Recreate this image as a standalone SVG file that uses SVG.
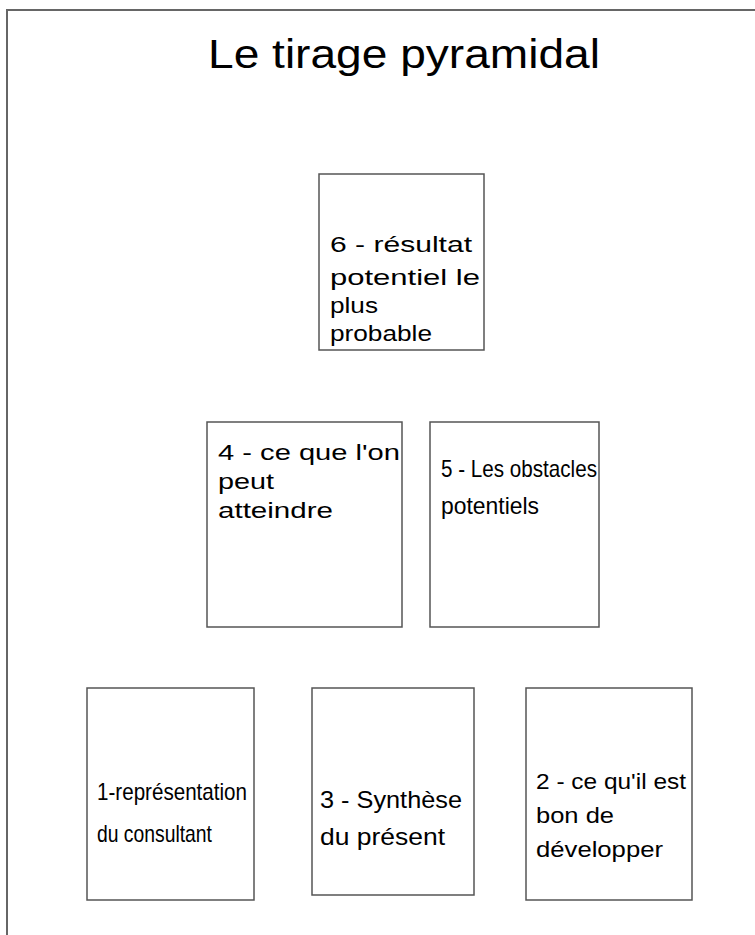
<svg xmlns="http://www.w3.org/2000/svg" width="755" height="935" viewBox="0 0 755 935">
<style>
.box{fill:#fff;stroke:#555;stroke-width:1.5}
.frame{fill:none;stroke:#666;stroke-width:2}
text{font-family:"Liberation Sans",Arial,sans-serif;fill:#000}
.t{font-size:22px}
.n{font-size:24px}
.title{font-size:40px}
</style>
<rect width="755" height="935" fill="#fff"/>
<rect class="frame" x="7" y="10" width="760" height="940"/>
<text class="title" x="208" y="68" textLength="392" lengthAdjust="spacingAndGlyphs">Le tirage pyramidal</text>
<g id="connectors"></g>
<g id="node6">
<rect class="box" x="319" y="174" width="165" height="176"/>
<text class="t" x="330" y="252" textLength="142" lengthAdjust="spacingAndGlyphs">6 - résultat</text>
<text class="t" x="330" y="285" textLength="150" lengthAdjust="spacingAndGlyphs">potentiel le</text>
<text class="t" x="330" y="313" textLength="48" lengthAdjust="spacingAndGlyphs">plus</text>
<text class="t" x="330" y="341" textLength="102" lengthAdjust="spacingAndGlyphs">probable</text>
</g>
<g id="node4">
<rect class="box" x="207" y="422" width="195" height="205"/>
<text class="t" x="218" y="460" textLength="182" lengthAdjust="spacingAndGlyphs">4 - ce que l'on</text>
<text class="t" x="218" y="489" textLength="56" lengthAdjust="spacingAndGlyphs">peut</text>
<text class="t" x="218" y="518" textLength="115" lengthAdjust="spacingAndGlyphs">atteindre</text>
</g>
<g id="node5">
<rect class="box" x="430" y="422" width="169" height="205"/>
<text class="n" x="441" y="477" textLength="156" lengthAdjust="spacingAndGlyphs">5 - Les obstacles</text>
<text class="n" x="441" y="514" textLength="98" lengthAdjust="spacingAndGlyphs">potentiels</text>
</g>
<g id="node1">
<rect class="box" x="87" y="688" width="167" height="212"/>
<text class="n" x="97" y="800" textLength="150" lengthAdjust="spacingAndGlyphs">1-représentation</text>
<text class="n" x="97" y="842" textLength="115" lengthAdjust="spacingAndGlyphs">du consultant</text>
</g>
<g id="node3">
<rect class="box" x="312" y="688" width="162" height="207"/>
<text class="n" x="320" y="808" textLength="142" lengthAdjust="spacingAndGlyphs">3 - Synthèse</text>
<text class="n" x="320" y="845" textLength="125" lengthAdjust="spacingAndGlyphs">du présent</text>
</g>
<g id="node2">
<rect class="box" x="526" y="688" width="166" height="212"/>
<text class="t" x="536" y="789" textLength="150" lengthAdjust="spacingAndGlyphs">2 - ce qu'il est</text>
<text class="t" x="536" y="823" textLength="78" lengthAdjust="spacingAndGlyphs">bon de</text>
<text class="t" x="536" y="857" textLength="127" lengthAdjust="spacingAndGlyphs">développer</text>
</g>
</svg>
